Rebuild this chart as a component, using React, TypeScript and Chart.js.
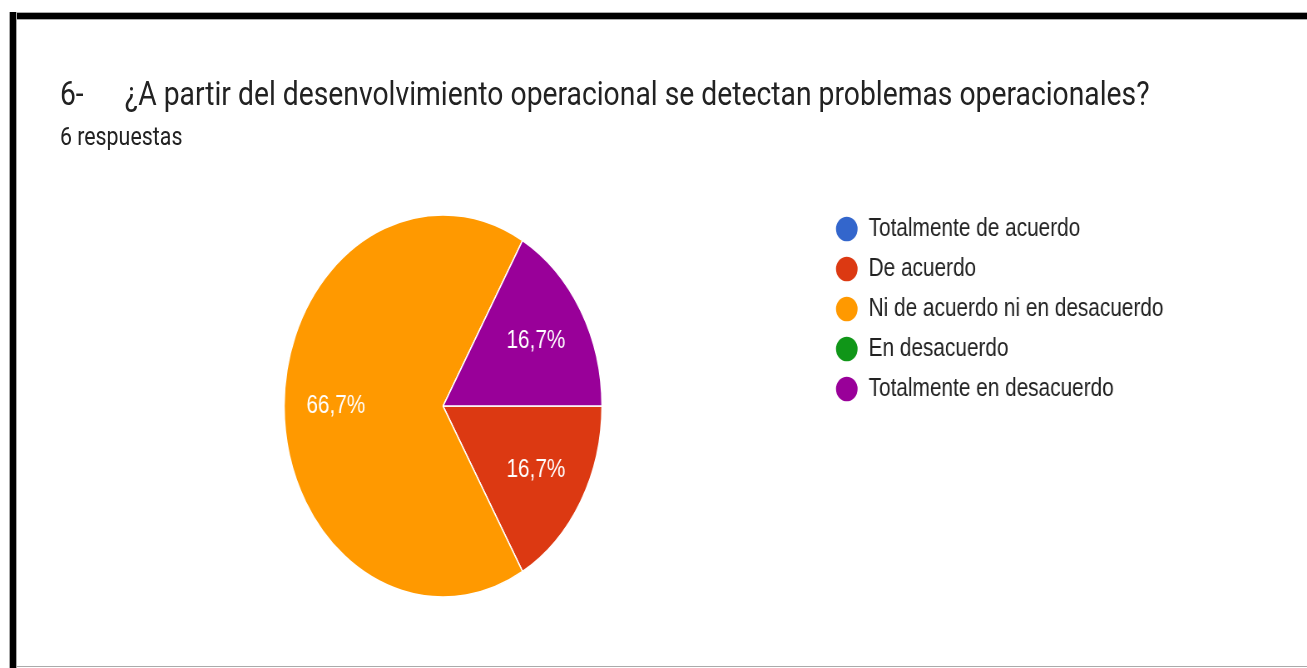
import React, { useEffect, useRef } from "react";
import { Chart, registerables } from "chart.js";

Chart.register(...registerables);

const QUESTION_NUMBER = "6-";
const QUESTION_TEXT = "¿A partir del desenvolvimiento operacional se detectan problemas operacionales?";
const RESPONSES_TEXT = "6 respuestas";

const categories = [
  "Totalmente de acuerdo",
  "De acuerdo",
  "Ni de acuerdo ni en desacuerdo",
  "En desacuerdo",
  "Totalmente en desacuerdo",
];
const responses = [0, 1, 4, 0, 1];
const sliceColors = ["#3366cc", "#dc3912", "#ff9900", "#109618", "#990099"];

const SX = 0.832; // horizontal squeeze of the reference picture
const INNER_W = Math.round(1307 / SX);
const PAGE_H = 668;
const CHART_FONT = "'Liberation Sans', Arial, sans-serif";
const LEGEND_SIZE = 25;
const LEGEND_PAD = 15;
const POINT_W = 27.5;
const LEGEND_LEFT = 989;

const pctLabels = {
  id: "pctLabels",
  afterDatasetsDraw(chart: any) {
    const ctx = chart.ctx;
    const meta = chart.getDatasetMeta(0);
    const data = chart.data.datasets[0].data as number[];
    const total = data.reduce((a, b) => a + b, 0);
    ctx.save();
    ctx.font = `25px ${CHART_FONT}`;
    ctx.fillStyle = "#ffffff";
    ctx.textAlign = "center";
    ctx.textBaseline = "middle";
    meta.data.forEach((el: any, i: number) => {
      const v = data[i];
      if (!v) return;
      const p = el.getProps(["x", "y", "startAngle", "endAngle", "outerRadius"], true);
      const mid = (p.startAngle + p.endAngle) / 2;
      const r = p.outerRadius * 0.675;
      const txt = ((v / total) * 100).toFixed(1).replace(".", ",") + "%";
      ctx.fillText(txt, p.x + Math.cos(mid) * r, p.y + Math.sin(mid) * r);
    });
    ctx.restore();
  },
};

export default function App() {
  const canvasRef = useRef<HTMLCanvasElement | null>(null);

  useEffect(() => {
    if (!canvasRef.current) return;
    const mctx = document.createElement("canvas").getContext("2d") as CanvasRenderingContext2D;
    mctx.font = `${LEGEND_SIZE}px ${CHART_FONT}`;
    const maxText = Math.max(...categories.map((c) => mctx.measureText(c).width));
    const legendW = LEGEND_PAD + POINT_W + LEGEND_SIZE / 2 + maxText + 10;
    const padRight = Math.max(0, INNER_W - LEGEND_LEFT - legendW);

    const chart = new Chart(canvasRef.current, {
      type: "pie",
      data: {
        labels: categories,
        datasets: [
          {
            data: responses,
            backgroundColor: sliceColors,
            borderColor: "#ffffff",
            borderWidth: 1.5,
            radius: 191,
            rotation: 90,
          } as any,
        ],
      },
      options: {
        animation: false,
        responsive: true,
        maintainAspectRatio: false,
        layout: { padding: { top: 201.5, bottom: 57.5, left: 76, right: padRight } },
        plugins: {
          legend: {
            position: "right",
            align: "start",
            labels: {
              usePointStyle: true,
              pointStyle: "circle",
              pointStyleWidth: POINT_W,
              boxHeight: 18.5,
              padding: LEGEND_PAD,
              textAlign: "left",
              color: "#222222",
              font: { family: CHART_FONT, size: LEGEND_SIZE },
            },
          } as any,
          tooltip: { enabled: false },
        },
      },
      plugins: [pctLabels],
    });
    return () => chart.destroy();
  }, []);

  return (
    <div
      style={{
        position: "absolute",
        left: 0,
        top: 0,
        width: 1307,
        height: PAGE_H,
        overflow: "hidden",
        background: "#ffffff",
      }}
    >
      <div
        style={{
          position: "absolute",
          left: 0,
          top: 0,
          width: INNER_W,
          height: PAGE_H,
          transform: `scaleX(${SX})`,
          transformOrigin: "0 0",
        }}
      >
        <div style={{ position: "absolute", left: 0, top: 0, width: INNER_W, height: PAGE_H }}>
          <canvas ref={canvasRef} />
        </div>
        <span
          style={{
            position: "absolute",
            left: 72,
            top: 76.4,
            fontFamily: "Roboto",
            fontSize: 34,
            lineHeight: 1,
            color: "#222222",
            whiteSpace: "nowrap",
          }}
        >
          {QUESTION_NUMBER}
        </span>
        <span
          style={{
            position: "absolute",
            left: 150,
            top: 76.4,
            fontFamily: "Roboto",
            fontSize: 34,
            lineHeight: 1,
            color: "#222222",
            whiteSpace: "nowrap",
          }}
        >
          {QUESTION_TEXT}
        </span>
        <span
          style={{
            position: "absolute",
            left: 72,
            top: 123.5,
            fontFamily: "Roboto",
            fontSize: 25.7,
            lineHeight: 1,
            color: "#222222",
            whiteSpace: "nowrap",
          }}
        >
          {RESPONSES_TEXT}
        </span>
      </div>
      {/* frame of the screenshot */}
      <div
        style={{
          position: "absolute",
          left: 9,
          top: 12,
          width: 1298,
          height: 8,
          background: "#000",
          borderTop: "1px solid #aaa",
          borderBottom: "1px solid #aaa",
          boxSizing: "border-box",
        }}
      />
      <div
        style={{
          position: "absolute",
          left: 9,
          top: 12,
          width: 8,
          height: PAGE_H - 12,
          background: "#000",
          borderLeft: "1px solid #aaa",
          borderRight: "1px solid #aaa",
          boxSizing: "border-box",
        }}
      />
      <div
        style={{
          position: "absolute",
          left: 17,
          top: 666,
          width: 1290,
          height: 1,
          background: "#aaa",
        }}
      />
    </div>
  );
}
